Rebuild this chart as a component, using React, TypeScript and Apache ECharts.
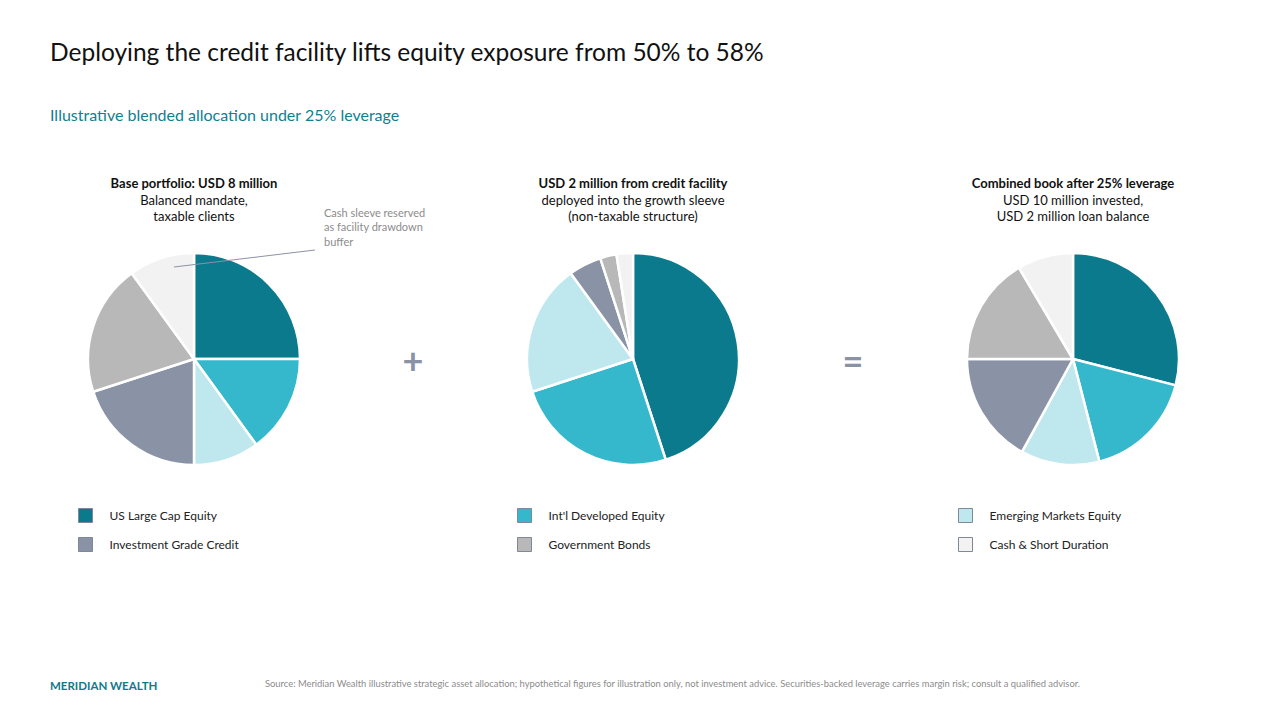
import React, { useEffect, useRef } from "react";
import * as echarts from "echarts";

const categories = [
  "US Large Cap Equity",
  "Int'l Developed Equity",
  "Emerging Markets Equity",
  "Investment Grade Credit",
  "Government Bonds",
  "Cash & Short Duration",
];
// USD million
const baseValues = [2.0, 1.2, 0.8, 1.6, 1.6, 0.8];
const facilityValues = [0.9, 0.5, 0.4, 0.1, 0.05, 0.05];
const combinedValues = [2.9, 1.7, 1.2, 1.7, 1.65, 0.85];

const colors = ["#0B7A8C", "#35B8CB", "#BFE7EE", "#8A92A5", "#B8B8B8", "#F2F2F2"];

const pieTitles = [
  ["Base portfolio: USD 8 million", "Balanced mandate,", "taxable clients"],
  ["USD 2 million from credit facility", "deployed into the growth sleeve", "(non-taxable structure)"],
  ["Combined book after 25% leverage", "USD 10 million invested,", "USD 2 million loan balance"],
];

const FONT = "Lato, 'Noto Sans', sans-serif";

export default function App() {
  const ref = useRef<HTMLDivElement>(null);
  useEffect(() => {
    if (!ref.current) return;
    const chart = echarts.init(ref.current, undefined, { renderer: "svg" });
    const centers = [194, 633, 1073];
    const valueSets = [baseValues, facilityValues, combinedValues];

    const series = valueSets.map((vals, i) => ({
      type: "pie" as const,
      center: [centers[i], 359],
      radius: 106,
      startAngle: 90,
      clockwise: true,
      label: { show: false },
      labelLine: { show: false },
      emphasis: { disabled: true },
      itemStyle: { borderColor: "#ffffff", borderWidth: 2.5 },
      data: categories.map((c, k) => ({ name: c, value: vals[k], itemStyle: { color: colors[k] } })),
    }));

    const legendCols = [
      { left: 73, items: [categories[0], categories[3]] },
      { left: 512, items: [categories[1], categories[4]] },
      { left: 953, items: [categories[2], categories[5]] },
    ];

    const legends = legendCols.map((col) => ({
      left: col.left,
      top: 503,
      orient: "vertical" as const,
      itemWidth: 14,
      itemHeight: 14,
      itemGap: 14,
      icon: "rect",
      selectedMode: false,
      data: col.items,
      itemStyle: { borderColor: "#7E8896", borderWidth: 1 },
      textStyle: { fontFamily: FONT, fontSize: 12, color: "#222", padding: [0, 0, 0, 12] },
    }));

    const headerGraphics: any[] = [];
    pieTitles.forEach((lines, i) => {
      lines.forEach((t, j) => {
        headerGraphics.push({
          type: "text",
          x: centers[i],
          y: 183 + j * 16.5,
          style: {
            text: t,
            fontFamily: FONT,
            fontSize: 13,
            fontWeight: j === 0 ? "bold" : "normal",
            fill: "#111",
            textAlign: "center",
            textVerticalAlign: "middle",
          },
        });
      });
    });

    chart.setOption({
      animation: false,
      backgroundColor: "#ffffff",
      color: colors,
      title: [
        {
          text: "Deploying the credit facility lifts equity exposure from 50% to 58%",
          left: 45,
          top: 34,
          textStyle: { fontFamily: FONT, fontSize: 24.5, fontWeight: "normal", color: "#111" },
        },
        {
          text: "Illustrative blended allocation under 25% leverage",
          left: 45,
          top: 101,
          textStyle: { fontFamily: FONT, fontSize: 16, fontWeight: "normal", color: "#0F8090" },
        },
      ],
      legend: legends,
      series,
      graphic: [
        ...headerGraphics,
        {
          type: "line",
          shape: { x1: 174, y1: 267, x2: 315, y2: 250 },
          style: { stroke: "#8A92A5", lineWidth: 1 },
          z: 10,
        },
        {
          type: "text",
          x: 324,
          y: 205,
          style: {
            text: "Cash sleeve reserved\nas facility drawdown\nbuffer",
            fontFamily: FONT,
            fontSize: 11,
            lineHeight: 14.5,
            fill: "#8C8C8C",
          },
        },
        {
          type: "text",
          x: 413,
          y: 360,
          style: {
            text: "+",
            fontFamily: FONT,
            fontSize: 36,
            fontWeight: "bold",
            fill: "#8A92A5",
            textAlign: "center",
            textVerticalAlign: "middle",
          },
        },
        {
          type: "text",
          x: 853,
          y: 360,
          style: {
            text: "=",
            fontFamily: FONT,
            fontSize: 36,
            fontWeight: "bold",
            fill: "#8A92A5",
            textAlign: "center",
            textVerticalAlign: "middle",
          },
        },
        {
          type: "text",
          x: 50,
          y: 685,
          style: {
            text: "MERIDIAN WEALTH",
            fontFamily: FONT,
            fontSize: 11.5,
            fontWeight: "bold",
            fill: "#0F7A8A",
            textVerticalAlign: "middle",
          },
        },
        {
          type: "text",
          x: 265,
          y: 683,
          style: {
            text:
              "Source: Meridian Wealth illustrative strategic asset allocation; hypothetical figures for illustration only, not investment advice. Securities-backed leverage carries margin risk; consult a qualified advisor.",
            fontFamily: FONT,
            fontSize: 9.4,
            fill: "#8C8C8C",
            textVerticalAlign: "middle",
          },
        },
      ],
    });
    return () => chart.dispose();
  }, []);
  return <div ref={ref} style={{ width: 1280, height: 720, position: "absolute", left: 0, top: 0 }} />;
}
